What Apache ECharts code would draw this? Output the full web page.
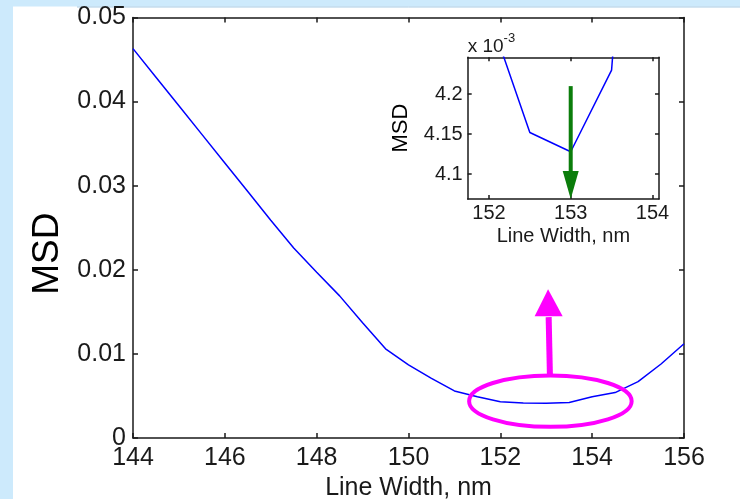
<!DOCTYPE html>
<html>
<head>
<meta charset="utf-8">
<script src="https://cdn.jsdelivr.net/npm/echarts@6/dist/echarts.min.js"></script>
<style>
html,body{margin:0;padding:0;background:#ffffff;}
#c{width:740px;height:499px;}
</style>
</head>
<body>
<div id="c"></div>
<script>
// ---- data ----
const lineWidths = [144,144.5,145,145.5,146,146.5,147,147.5,148,148.5,149,149.5,150,150.5,151,151.5,152,152.5,153,153.5,154,154.5,155,155.5,156];
const msdValues = [0.0463,0.0429,0.0395,0.0361,0.0327,0.0293,0.0259,0.0226,0.0197,0.0169,0.0137,0.0106,0.0087,0.0071,0.0056,0.0049,0.0043,0.004152,0.004128,0.00423,0.0049,0.0054,0.0067,0.0088,0.0112];
const insetXTicks = [152,153,154];
const insetYTicks = [0.0041,0.00415,0.0042];
// annotations (data units)
const ellipseCenter = [153.09, 0.00438];
const ellipseRadii = [1.77, 0.00305];
const magentaArrow = [[153.08, 0.0074],[153.04, 0.0177]];
const greenArrow = [[153, 0.00421],[153, 0.004069]];

const FONT = "'Liberation Sans', Arial, sans-serif";
const TXT = '#1a1a1a';
const seriesData = lineWidths.map((x,i)=>[x, msdValues[i]]);

const chart = echarts.init(document.getElementById('c'), null, {renderer:'canvas'});

const mainGrid = {left:133, top:17.5, width:551, height:420.5};
const insetGrid = {left:467.7, top:57.3, width:191.3, height:141.7};

function fmtInsetY(v){ return String(Number((v*1000).toFixed(3))); }

const axisLineStyle = {color:'#1a1a1a', width:1.5};

const option = {
  backgroundColor:'#ffffff',
  animation:false,
  grid:[
    Object.assign({containLabel:false, outerBoundsMode:'none'}, mainGrid),
    Object.assign({containLabel:false, outerBoundsMode:'none', show:true, backgroundColor:'#ffffff', borderWidth:0}, insetGrid)
  ],
  xAxis:[
    {type:'value', gridIndex:0, min:144, max:156, interval:2, position:'bottom',
     axisLine:{show:true, onZero:false, lineStyle:axisLineStyle},
     axisTick:{show:true, inside:true, length:5, lineStyle:axisLineStyle},
     axisLabel:{color:TXT, fontSize:25, fontFamily:FONT, margin:8},
     splitLine:{show:false},
     name:'Line Width, nm', nameLocation:'middle', nameGap:37,
     nameTextStyle:{color:TXT, fontSize:25, fontFamily:FONT}},
    {type:'value', gridIndex:0, min:144, max:156, interval:2, position:'top',
     axisLine:{show:true, onZero:false, lineStyle:axisLineStyle},
     axisTick:{show:true, inside:true, length:5, lineStyle:axisLineStyle},
     axisLabel:{show:false}, splitLine:{show:false}},
    {type:'value', gridIndex:1, min:151.74, max:154.08, position:'bottom',
     axisLine:{show:true, onZero:false, lineStyle:axisLineStyle},
     axisTick:{show:true, inside:true, length:4, customValues:insetXTicks, lineStyle:axisLineStyle},
     axisLabel:{color:TXT, fontSize:20, fontFamily:FONT, margin:4, customValues:insetXTicks, showMinLabel:true, showMaxLabel:true},
     splitLine:{show:false},
     name:'Line Width, nm', nameLocation:'middle', nameGap:27,
     nameTextStyle:{color:TXT, fontSize:20, fontFamily:FONT}},
    {type:'value', gridIndex:1, min:151.74, max:154.08, position:'top',
     axisLine:{show:true, onZero:false, lineStyle:axisLineStyle},
     axisTick:{show:true, inside:true, length:4, customValues:insetXTicks, lineStyle:axisLineStyle},
     axisLabel:{show:false}, splitLine:{show:false}}
  ],
  yAxis:[
    {type:'value', gridIndex:0, min:0, max:0.05, interval:0.01, position:'left',
     axisLine:{show:true, onZero:false, lineStyle:axisLineStyle},
     axisTick:{show:true, inside:true, length:5, lineStyle:axisLineStyle},
     axisLabel:{color:TXT, fontSize:25, fontFamily:FONT, margin:7,
       formatter:v=> v===0 ? '0' : v.toFixed(2)},
     splitLine:{show:false},
     name:'MSD', nameLocation:'middle', nameGap:66,
     nameTextStyle:{color:'#000', fontSize:37, fontFamily:FONT, padding:[0,52,0,0]}},
    {type:'value', gridIndex:0, min:0, max:0.05, interval:0.01, position:'right',
     axisLine:{show:true, onZero:false, lineStyle:axisLineStyle},
     axisTick:{show:true, inside:true, length:5, lineStyle:axisLineStyle},
     axisLabel:{show:false}, splitLine:{show:false}},
    {type:'value', gridIndex:1, min:0.004069, max:0.004246, position:'left',
     axisLine:{show:true, onZero:false, lineStyle:axisLineStyle},
     axisTick:{show:true, inside:true, length:4, customValues:insetYTicks, lineStyle:axisLineStyle},
     axisLabel:{color:TXT, fontSize:20, fontFamily:FONT, margin:5, customValues:insetYTicks, formatter:fmtInsetY},
     splitLine:{show:false},
     name:'MSD', nameLocation:'middle', nameGap:56,
     nameTextStyle:{color:'#000', fontSize:22, fontFamily:FONT}},
    {type:'value', gridIndex:1, min:0.004069, max:0.004246, position:'right',
     axisLine:{show:true, onZero:false, lineStyle:axisLineStyle},
     axisTick:{show:true, inside:true, length:4, customValues:insetYTicks, lineStyle:axisLineStyle},
     axisLabel:{show:false}, splitLine:{show:false}}
  ],
  series:[
    {type:'line', xAxisIndex:0, yAxisIndex:0, data:seriesData, showSymbol:false, symbol:'none',
     lineStyle:{color:'#0000ff', width:1.5}, clip:true},
    {type:'line', xAxisIndex:2, yAxisIndex:2, data:seriesData, showSymbol:false, symbol:'none',
     lineStyle:{color:'#0000ff', width:1.5}, clip:true}
  ]
};
chart.setOption(option);

// ---- annotations placed through the axes' own scales ----
const pm = p => chart.convertToPixel({xAxisIndex:0, yAxisIndex:0}, p);
const pi = p => chart.convertToPixel({xAxisIndex:2, yAxisIndex:2}, p);

const ec = pm(ellipseCenter);
const eEdge = pm([ellipseCenter[0]+ellipseRadii[0], ellipseCenter[1]+ellipseRadii[1]]);
const rx = Math.abs(eEdge[0]-ec[0]), ry = Math.abs(eEdge[1]-ec[1]);

const ma0 = pm(magentaArrow[0]), ma1 = pm(magentaArrow[1]);
const headLen = 27, headHalf = 14;
const mBase = [ma1[0] + (ma0[0]-ma1[0])*headLen/Math.hypot(ma0[0]-ma1[0], ma0[1]-ma1[1]), ma1[1]+headLen];

const ga0 = pi(greenArrow[0]), ga1 = pi(greenArrow[1]);
const gHeadLen = 28, gHalf = 8;

const gx = insetGrid.left;
const gy = insetGrid.top;

chart.setOption({
  graphic:[
    {type:'rect', shape:{x:0,y:0,width:13,height:499}, style:{fill:'#cdeafc'}, silent:true, z:-10},
    {type:'rect', shape:{x:0,y:0,width:740,height:6.5}, style:{fill:'#cdeafc'}, silent:true, z:-10},
    {type:'line', shape:{x1:77,y1:7,x2:740,y2:7}, style:{stroke:'#a9cbe3', lineWidth:1}, silent:true, z:-10},
    {type:'ellipse', shape:{cx:ec[0], cy:ec[1], rx:rx, ry:ry}, style:{fill:null, stroke:'#ff00ff', lineWidth:4}, z:50},
    {type:'line', shape:{x1:ma0[0], y1:ma0[1], x2:mBase[0], y2:mBase[1]+1}, style:{stroke:'#ff00ff', lineWidth:6}, z:50},
    {type:'polygon', shape:{points:[[ma1[0],ma1[1]],[mBase[0]-headHalf, mBase[1]],[mBase[0]+headHalf, mBase[1]]]}, style:{fill:'#ff00ff'}, z:50},
    {type:'line', shape:{x1:ga0[0], y1:ga0[1], x2:ga1[0], y2:ga1[1]-gHeadLen+1}, style:{stroke:'#0b7d0b', lineWidth:4}, z:50},
    {type:'polygon', shape:{points:[[ga1[0],ga1[1]],[ga1[0]-gHalf, ga1[1]-gHeadLen],[ga1[0]+gHalf, ga1[1]-gHeadLen]]}, style:{fill:'#0b7d0b'}, z:50},
    {type:'text', left:gx, top:gy-25, z:50,
     style:{text:'{a|x 10}{b|-3}', fontFamily:FONT,
       rich:{a:{fontSize:19, fontFamily:FONT, fill:TXT, verticalAlign:'bottom', lineHeight:24},
             b:{fontSize:13, fontFamily:FONT, fill:TXT, verticalAlign:'top', lineHeight:24, padding:[0,0,14,0]}}}}
  ]
});
</script>
</body>
</html>
